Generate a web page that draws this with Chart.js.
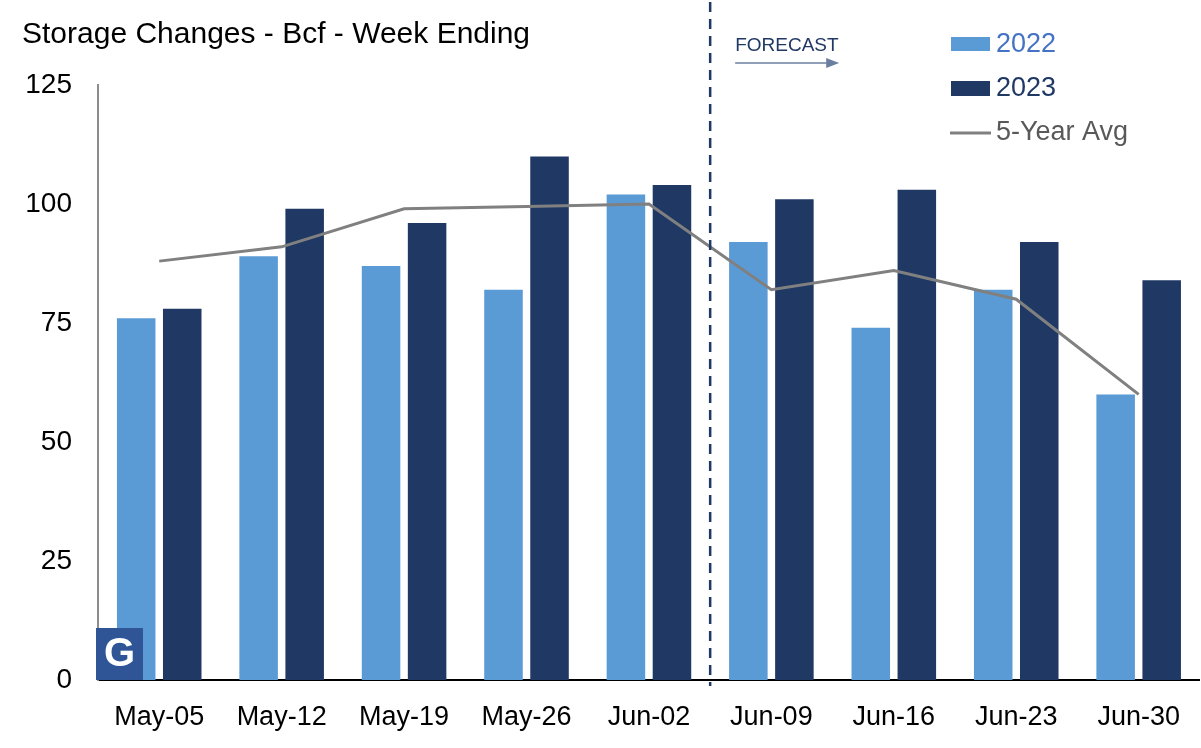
<!DOCTYPE html>
<html>
<head>
<meta charset="utf-8">
<script src="https://cdn.jsdelivr.net/npm/chart.js@4.4.1/dist/chart.umd.min.js"></script>
<style>
  html, body { margin: 0; padding: 0; background: #ffffff; }
  #wrap { width: 1201px; height: 748px; position: relative; }
</style>
</head>
<body>
<div id="wrap"><canvas id="c" width="1201" height="748"></canvas></div>
<script>
const categories = ['May-05', 'May-12', 'May-19', 'May-26', 'Jun-02', 'Jun-09', 'Jun-16', 'Jun-23', 'Jun-30'];
const values2022 = [76, 89, 87, 82, 102, 92, 74, 82, 60];
const values2023 = [78, 99, 96, 110, 104, 101, 103, 92, 84];
const avg5yr = [88, 91, 99, 99.5, 100, 82, 86, 80, 60];
const yTicks = [0, 25, 50, 75, 100, 125];
const seriesNames = ['2022', '2023', '5-Year Avg'];
const titleText = 'Storage Changes - Bcf - Week Ending';
const forecastText = 'FORECAST';
const forecastAfterIndex = 4;

const FONT = "'Liberation Sans', Arial, sans-serif";
const C2022 = '#5B9BD5';
const C2023 = '#203864';
const CAVG = '#808080';

const overlay = {
  id: 'overlay',
  afterDatasetsDraw(chart) {
    const ctx = chart.ctx;
    const xs = chart.scales.x;
    const ys = chart.scales.y;
    ctx.save();
    // forecast divider
    const xd = (xs.getPixelForValue(forecastAfterIndex) + xs.getPixelForValue(forecastAfterIndex + 1)) / 2;
    ctx.strokeStyle = C2023;
    ctx.lineWidth = 2.5;
    ctx.setLineDash([10, 7]);
    ctx.beginPath();
    ctx.moveTo(xd, 2);
    ctx.lineTo(xd, ys.getPixelForValue(0) + 6);
    ctx.stroke();
    ctx.setLineDash([]);

    // G logo
    const bx = xs.left - 2, by = ys.getPixelForValue(0);
    ctx.fillStyle = '#2F5597';
    ctx.fillRect(bx, by - 52, 47, 52);
    ctx.fillStyle = '#ffffff';
    ctx.font = "bold 40px " + FONT;
    ctx.textAlign = 'center';
    ctx.textBaseline = 'middle';
    ctx.fillText('G', bx + 23.5, by - 25);
    ctx.restore();
  },
  afterDraw(chart) {
    const ctx = chart.ctx;
    const xs = chart.scales.x;
    ctx.save();
    // title
    ctx.fillStyle = '#000000';
    ctx.font = "30px " + FONT;
    ctx.textAlign = 'left';
    ctx.textBaseline = 'alphabetic';
    ctx.fillText(titleText, 22, 43);

    // forecast label and arrow
    const xd = (xs.getPixelForValue(forecastAfterIndex) + xs.getPixelForValue(forecastAfterIndex + 1)) / 2;
    const fx = xd + 25;
    ctx.fillStyle = C2023;
    ctx.font = "19px " + FONT;
    ctx.fillText(forecastText, fx, 51);
    ctx.strokeStyle = '#6B7EA0';
    ctx.fillStyle = '#6B7EA0';
    ctx.lineWidth = 1.5;
    ctx.beginPath();
    ctx.moveTo(fx, 63);
    ctx.lineTo(fx + 92, 63);
    ctx.stroke();
    ctx.beginPath();
    ctx.moveTo(fx + 91, 58);
    ctx.lineTo(fx + 104, 63);
    ctx.lineTo(fx + 91, 68);
    ctx.closePath();
    ctx.fill();

    // legend
    const lx = 951;
    ctx.font = "27px " + FONT;
    ctx.textBaseline = 'middle';
    ctx.fillStyle = C2022;
    ctx.fillRect(lx, 37, 39, 14);
    ctx.fillStyle = '#4472C4';
    ctx.fillText(seriesNames[0], lx + 45, 45);
    ctx.fillStyle = C2023;
    ctx.fillRect(lx, 81, 39, 15);
    ctx.fillText(seriesNames[1], lx + 45, 89);
    ctx.strokeStyle = CAVG;
    ctx.lineWidth = 3;
    ctx.beginPath();
    ctx.moveTo(lx - 1, 133);
    ctx.lineTo(lx + 40, 133);
    ctx.stroke();
    ctx.fillStyle = '#595959';
    ctx.fillText(seriesNames[2], lx + 45, 133);
    ctx.restore();
  }
};

new Chart(document.getElementById('c'), {
  data: {
    labels: categories,
    datasets: [
      {
        type: 'line', label: seriesNames[2], data: avg5yr,
        borderColor: CAVG, borderWidth: 3, pointRadius: 0, tension: 0, order: 0
      },
      {
        type: 'bar', label: seriesNames[0], data: values2022,
        backgroundColor: C2022, categoryPercentage: 0.752, barPercentage: 0.837, order: 1
      },
      {
        type: 'bar', label: seriesNames[1], data: values2023,
        backgroundColor: C2023, categoryPercentage: 0.752, barPercentage: 0.837, order: 2
      }
    ]
  },
  options: {
    responsive: false,
    animation: false,
    devicePixelRatio: 1,
    layout: { padding: { top: 85, right: 1, bottom: 0, left: 0 } },
    plugins: {
      legend: { display: false },
      tooltip: { enabled: false },
      title: { display: false }
    },
    scales: {
      x: {
        afterFit(scale) { scale.height = 68; },
        grid: { display: false, drawTicks: false },
        border: { display: true, color: '#000000', width: 2 },
        ticks: { color: '#000000', font: { family: FONT, size: 27 }, padding: 21, maxRotation: 0, autoSkip: false }
      },
      y: {
        min: 0, max: 125,
        afterBuildTicks(scale) { scale.ticks = yTicks.map(v => ({ value: v })); },
        afterFit(scale) { scale.width = 98; },
        grid: { display: false, drawTicks: false },
        border: { display: true, color: '#8C8C8C', width: 2 },
        ticks: { color: '#000000', font: { family: FONT, size: 28 }, padding: 26 }
      }
    }
  },
  plugins: [overlay]
});
</script>
</body>
</html>
